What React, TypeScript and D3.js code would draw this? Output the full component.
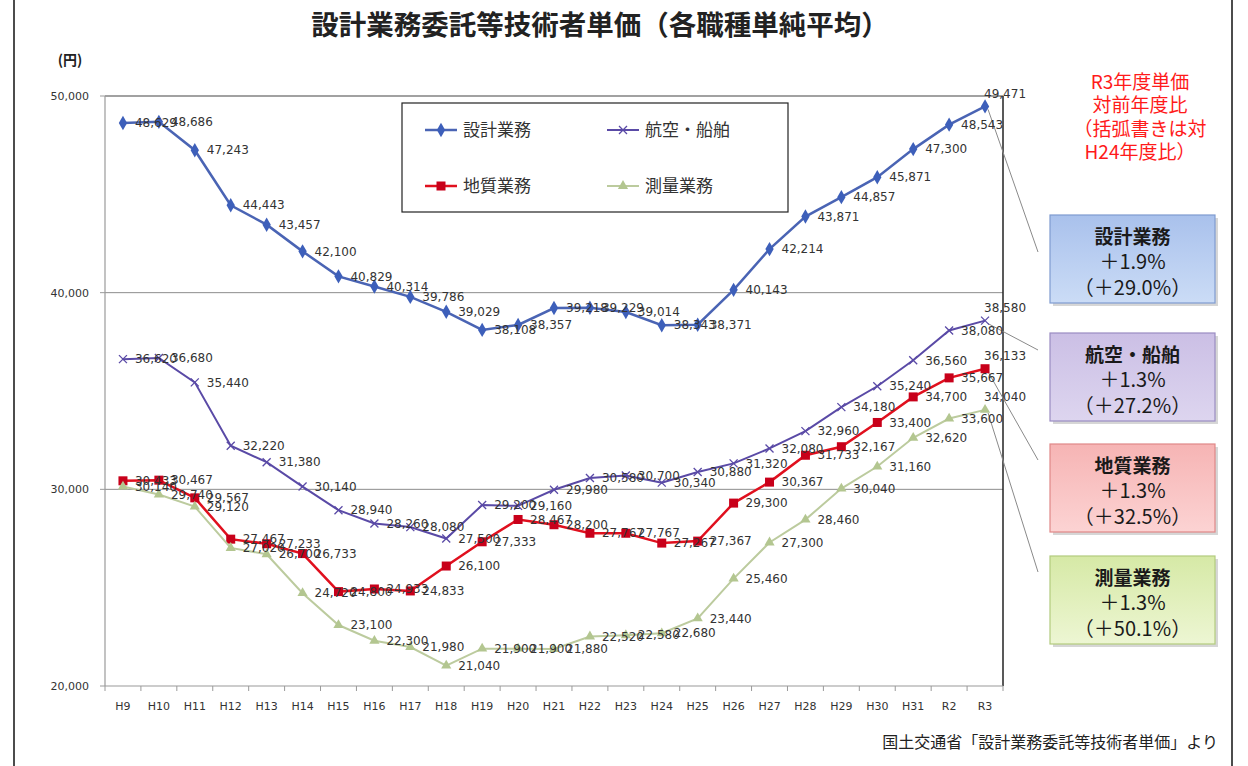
import * as d3 from 'd3';
import React from 'react';

// fiscal years on the x axis
const years = [
  'H9', 'H10', 'H11', 'H12', 'H13', 'H14', 'H15', 'H16', 'H17', 'H18', 'H19', 'H20', 'H21',
  'H22', 'H23', 'H24', 'H25', 'H26', 'H27', 'H28', 'H29', 'H30', 'H31', 'R2', 'R3',
];

// unit prices (yen) per job type
const sekkei = [
  48629, 48686, 47243, 44443, 43457, 42100, 40829, 40314, 39786, 39029, 38108, 38357, 39218,
  39229, 39014, 38343, 38371, 40143, 42214, 43871, 44857, 45871, 47300, 48543, 49471,
];
const koku = [
  36620, 36680, 35440, 32220, 31380, 30140, 28940, 28260, 28080, 27500, 29200, 29160, 29980,
  30580, 30700, 30340, 30880, 31320, 32080, 32960, 34180, 35240, 36560, 38080, 38580,
];
const chishitsu = [
  30433, 30467, 29567, 27467, 27233, 26733, 24800, 24933, 24833, 26100, 27333, 28467, 28200,
  27767, 27767, 27267, 27367, 29300, 30367, 31733, 32167, 33400, 34700, 35667, 36133,
];
const sokuryo = [
  30140, 29740, 29120, 27020, 26700, 24720, 23100, 22300, 21980, 21040, 21900, 21900, 21880,
  22520, 22580, 22680, 23440, 25460, 27300, 28460, 30040, 31160, 32620, 33600, 34040,
];

const seriesNames = ['設計業務', '航空・船舶', '地質業務', '測量業務'];
const yTicks = [20000, 30000, 40000, 50000];

// right-hand annotation boxes
const boxTitles = ['設計業務', '航空・船舶', '地質業務', '測量業務'];
const boxPrevYear = ['＋1.9%', '＋1.3%', '＋1.3%', '＋1.3%'];
const boxVsH24 = ['（＋29.0%）', '（＋27.2%）', '（＋32.5%）', '（＋50.1%）'];
const noteLines = ['R3年度単価', '対前年度比', '（括弧書きは対', 'H24年度比）'];

const JP = '"Noto Sans CJK JP", "Noto Sans", sans-serif';
const NUM = '"DejaVu Sans", sans-serif';

type Marker = 'diamond' | 'cross' | 'square' | 'triangle';

const styles: { color: string; marker: Marker; fill: string; width: number }[] = [
  { color: '#4a64b4', marker: 'diamond', fill: '#3d5fba', width: 2.5 },
  { color: '#5a4aa6', marker: 'cross', fill: '#5a4aa6', width: 2 },
  { color: '#e0101e', marker: 'square', fill: '#c8001a', width: 2.5 },
  { color: '#bccb9e', marker: 'triangle', fill: '#b3c690', width: 2 },
];

const boxStyle = [
  { top: '#a9c1ec', bottom: '#cbdcf6', stroke: '#7f9bd0' },
  { top: '#cbbfe5', bottom: '#ddd5ef', stroke: '#9a8cc2' },
  { top: '#f6b4b4', bottom: '#fcd3d3', stroke: '#e08888' },
  { top: '#d6e9a6', bottom: '#edf6d3', stroke: '#b2cb7e' },
];

function MarkerShape({ kind, x, y, color }: { kind: Marker; x: number; y: number; color: string }) {
  if (kind === 'diamond') {
    return <path d={d3.symbol(d3.symbolDiamond, 60)()!} transform={`translate(${x},${y})`} fill={color} />;
  }
  if (kind === 'square') {
    return <rect x={x - 4.5} y={y - 4.5} width={9} height={9} fill={color} />;
  }
  if (kind === 'triangle') {
    return <path d={d3.symbol(d3.symbolTriangle, 45)()!} transform={`translate(${x},${y})`} fill={color} />;
  }
  return (
    <path
      d={`M${x - 4},${y - 4}L${x + 4},${y + 4}M${x - 4},${y + 4}L${x + 4},${y - 4}`}
      stroke={color}
      strokeWidth={1.3}
    />
  );
}

export default function App() {
  const left = 105;
  const right = 1003;
  const top = 96;
  const bottom = 686;

  const x = d3.scaleBand<string>().domain(years).range([left, right]);
  const cx = (d: string) => (x(d) as number) + x.bandwidth() / 2;
  const y = d3.scaleLinear().domain([20000, 50000]).range([bottom, top]);

  const allSeries = [sekkei, koku, chishitsu, sokuryo];
  const line = d3
    .line<number>()
    .x((_, i) => cx(years[i]))
    .y(d => y(d));

  const fmt = d3.format(',');
  const last = years.length - 1;

  // box positions
  const boxX = 1050;
  const boxW = 165;
  const boxTops = [215, 333, 444, 556];
  const boxH = 88;
  const connectorEnds = [252, 350, 460, 572];

  return (
    <svg width={1248} height={766} style={{ position: 'absolute', left: 0, top: 0, background: '#fff' }}>
      {/* outer frame */}
      <line x1={14} y1={0} x2={14} y2={766} stroke="#111" strokeWidth={1.5} />
      <line x1={1232} y1={0} x2={1232} y2={766} stroke="#111" strokeWidth={1.5} />

      {/* title */}
      <text x={600} y={35} textAnchor="middle" fontFamily={JP} fontWeight={700} fontSize={27.5} fill="#222">
        設計業務委託等技術者単価（各職種単純平均）
      </text>
      <text x={70} y={65} textAnchor="middle" fontFamily={JP} fontWeight={700} fontSize={14} fill="#222">
        (円)
      </text>

      {/* gridlines */}
      {yTicks
        .filter(t => t !== 20000 && t !== 50000)
        .map(t => (
          <line key={t} x1={left} x2={right} y1={y(t)} y2={y(t)} stroke="#8c8c8c" strokeWidth={1} />
        ))}
      {/* plot frame */}
      <line x1={left} x2={right} y1={top} y2={top} stroke="#444" strokeWidth={1.2} />
      <line x1={right} x2={right} y1={top} y2={bottom} stroke="#222" strokeWidth={1.5} />
      <line x1={left} x2={left} y1={top} y2={bottom} stroke="#9a9a9a" strokeWidth={1.2} />
      <line x1={left} x2={right} y1={bottom} y2={bottom} stroke="#9a9a9a" strokeWidth={1.2} />

      {/* y axis */}
      {yTicks.map(t => (
        <g key={t}>
          <line x1={left - 5} x2={left} y1={y(t)} y2={y(t)} stroke="#9a9a9a" />
          <text x={left - 16} y={y(t)} dy="0.35em" textAnchor="end" fontFamily={NUM} fontSize={11} fill="#333">
            {fmt(t)}
          </text>
        </g>
      ))}

      {/* x axis */}
      {d3.range(years.length + 1).map(i => (
        <line
          key={i}
          x1={left + i * x.step()}
          x2={left + i * x.step()}
          y1={bottom}
          y2={bottom + 5}
          stroke="#9a9a9a"
        />
      ))}
      {years.map(yr => (
        <text key={yr} x={cx(yr)} y={bottom + 24} textAnchor="middle" fontFamily={NUM} fontSize={11} fill="#333">
          {yr}
        </text>
      ))}

      {/* connectors from R3 points to boxes */}
      {allSeries.map((s, k) => (
        <line
          key={k}
          x1={cx(years[last]) + 3}
          y1={y(s[last]) + 3}
          x2={boxX - 12}
          y2={connectorEnds[k]}
          stroke="#8a8a8a"
          strokeWidth={1}
        />
      ))}

      {/* series lines and markers */}
      {allSeries.map((s, k) => (
        <g key={k}>
          <path d={line(s)!} fill="none" stroke={styles[k].color} strokeWidth={styles[k].width} />
          {s.map((v, i) => (
            <MarkerShape key={i} kind={styles[k].marker} x={cx(years[i])} y={y(v)} color={styles[k].fill} />
          ))}
        </g>
      ))}

      {/* data labels */}
      {allSeries.map((s, k) => (
        <g key={k} fontFamily={NUM} fontSize={12} fill="#333">
          {s.map((v, i) =>
            i === last ? (
              <text key={i} x={cx(years[i]) + 20} y={y(v) - 13} textAnchor="middle" dy="0.35em">
                {fmt(v)}
              </text>
            ) : (
              <text key={i} x={cx(years[i]) + 12} y={y(v)} dy="0.35em">
                {fmt(v)}
              </text>
            )
          )}
        </g>
      ))}

      {/* legend */}
      <rect x={402} y={103} width={386} height={109} fill="#fff" stroke="#222" strokeWidth={1.2} />
      {seriesNames.map((name, k) => {
        const lx = k % 2 === 0 ? 425 : 607;
        const ly = k < 2 ? 130 : 186;
        return (
          <g key={name}>
            <line x1={lx} x2={lx + 32} y1={ly} y2={ly} stroke={styles[k].color} strokeWidth={styles[k].width} />
            <MarkerShape kind={styles[k].marker} x={lx + 16} y={ly} color={styles[k].fill} />
            <text x={lx + 38} y={ly} dy="0.35em" fontFamily={JP} fontSize={17} fill="#333">
              {name}
            </text>
          </g>
        );
      })}

      {/* note */}
      {noteLines.map((t, i) => (
        <text key={i} x={1140} y={82 + i * 23.5} dy="0.35em" textAnchor="middle" fontFamily={JP} fontSize={19} fill="#ff1a1a">
          {t}
        </text>
      ))}

      {/* annotation boxes */}
      <defs>
        {boxStyle.map((b, k) => (
          <linearGradient key={k} id={`bx${k}`} x1="0" y1="0" x2="0" y2="1">
            <stop offset="0%" stopColor={b.top} />
            <stop offset="100%" stopColor={b.bottom} />
          </linearGradient>
        ))}
      </defs>
      {boxTitles.map((t, k) => {
        const by = boxTops[k];
        return (
          <g key={t}>
            <rect x={boxX + 3} y={by + 3} width={boxW} height={boxH} fill="#d6d6d6" />
            <rect x={boxX} y={by} width={boxW} height={boxH} fill={`url(#bx${k})`} stroke={boxStyle[k].stroke} strokeWidth={1.2} />
            <text x={boxX + boxW / 2} y={by + 22} dy="0.35em" textAnchor="middle" fontFamily={JP} fontWeight={700} fontSize={19} fill="#1a1a1a">
              {t}
            </text>
            <text x={boxX + boxW / 2} y={by + 47} dy="0.35em" textAnchor="middle" fontFamily={JP} fontSize={20} fill="#1a1a1a">
              {boxPrevYear[k]}
            </text>
            <text x={boxX + boxW / 2} y={by + 73} dy="0.35em" textAnchor="middle" fontFamily={JP} fontSize={20} fill="#1a1a1a">
              {boxVsH24[k]}
            </text>
          </g>
        );
      })}

      {/* source */}
      <text x={1218} y={742} dy="0.35em" textAnchor="end" fontFamily={JP} fontSize={16} fill="#222">
        国土交通省「設計業務委託等技術者単価」より
      </text>
    </svg>
  );
}
